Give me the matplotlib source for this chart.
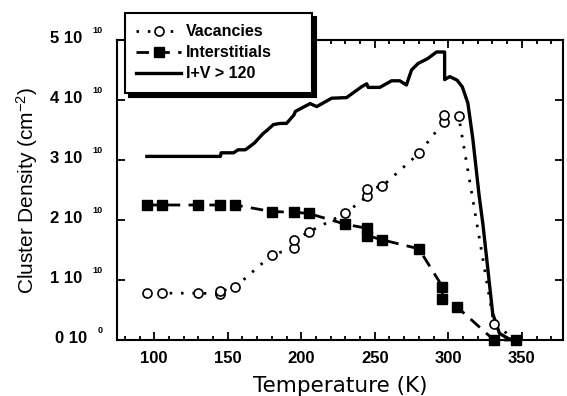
import matplotlib
matplotlib.use("Agg")
import matplotlib.pyplot as plt
from matplotlib.ticker import MultipleLocator, NullFormatter

plt.rcParams["mathtext.default"] = "regular"

SCALE = 1e10  # densities below are in units of 1e10 cm^-2

# vacancy clusters (open circles, dotted)
vac_temp = [95, 105, 130, 145, 145, 155, 180, 195, 195, 205, 230, 245, 245, 255,
            280, 297, 297, 307, 331, 346]
vac_density = [0.78, 0.78, 0.78, 0.77, 0.81, 0.88, 1.42, 1.53, 1.66, 1.80, 2.11,
               2.40, 2.52, 2.56, 3.11, 3.64, 3.75, 3.74, 0.27, 0.0]

# interstitial clusters (filled squares, dashed)
int_temp = [95, 105, 130, 145, 155, 180, 195, 205, 230, 245, 245, 255, 280,
            296, 296, 306, 331, 346]
int_density = [2.25, 2.25, 2.25, 2.25, 2.25, 2.14, 2.13, 2.11, 1.93, 1.86, 1.74,
               1.67, 1.52, 0.89, 0.69, 0.55, 0.0, 0.0]

# I+V > 120 (solid)
iv_temp = [95, 145, 145.5, 154, 157, 162, 168, 174, 177, 181, 185.6, 190, 195,
           196, 206, 210.5, 220.7, 230.8, 241, 244.5, 245.5, 253.4, 261.4, 267,
           271.5, 275, 279.5, 286, 292, 297.5, 297.5, 301, 306, 309.5, 313.3,
           316.7, 321, 323.5, 330.2, 334.8, 341, 346]
iv_density = [3.06, 3.06, 3.12, 3.12, 3.17, 3.17, 3.28, 3.44, 3.50, 3.59, 3.61,
              3.61, 3.75, 3.81, 3.94, 3.89, 4.03, 4.04, 4.22, 4.27, 4.21, 4.21,
              4.32, 4.32, 4.25, 4.50, 4.61, 4.69, 4.80, 4.80, 4.34, 4.39, 4.33,
              4.22, 3.95, 3.35, 2.40, 1.94, 0.44, 0.11, 0.02, 0.0]

y_ticks = [0, 1, 2, 3, 4, 5]
y_tick_base = ["0 10", "1 10", "2 10", "3 10", "4 10", "5 10"]
y_tick_exp = ["0", "10", "10", "10", "10", "10"]

fig = plt.figure(figsize=(5.67, 3.96), dpi=100)
ax = fig.add_axes([0.2072, 0.1414, 0.7857, 0.7576])

ax.plot(vac_temp, [v * SCALE for v in vac_density], color="black",
        linestyle=(0, (0.9, 3.2)), linewidth=2.0, marker="o", markersize=6.5,
        markerfacecolor="white", markeredgecolor="black", markeredgewidth=1.2,
        label="Vacancies", clip_on=False, zorder=3)
ax.plot(int_temp, [v * SCALE for v in int_density], color="black",
        linestyle=(0, (4.5, 3)), linewidth=2.0, marker="s", markersize=6.5,
        markerfacecolor="black", markeredgecolor="black",
        label="Interstitials", clip_on=False, zorder=3)
ax.plot(iv_temp, [v * SCALE for v in iv_density], color="black", linewidth=2.4,
        label="I+V > 120", clip_on=False, zorder=2)

ax.set_xlim(75, 378)
ax.set_ylim(0, 5 * SCALE)
ax.xaxis.set_major_locator(MultipleLocator(50))
ax.xaxis.set_minor_locator(MultipleLocator(10))
ax.set_yticks([t * SCALE for t in y_ticks])
ax.yaxis.set_major_formatter(NullFormatter())
ax.tick_params(which="both", direction="in", top=True, right=True, width=1.3)
ax.tick_params(which="major", length=6)
ax.tick_params(which="minor", length=3)
ax.tick_params(axis="x", pad=8)
for lab in ax.get_xticklabels():
    lab.set_fontfamily("Liberation Sans")
    lab.set_fontweight("bold")
    lab.set_fontsize(12)
for spine in ax.spines.values():
    spine.set_linewidth(1.5)

# y tick labels of the form "3 10" with a detached exponent
ytrans = ax.get_yaxis_transform()
for val, base, exp in zip(y_ticks, y_tick_base, y_tick_exp):
    sup = ax.annotate(exp, xy=(0, val * SCALE), xycoords=ytrans, xytext=(-11, 7),
                      textcoords="offset points", ha="right", va="center",
                      family="Liberation Sans", weight="bold", fontsize=6.5)
    ax.annotate(base, xy=(0, 0.5), xycoords=sup, xytext=(-7, -6),
                textcoords="offset points", ha="right", va="center",
                family="Liberation Sans", weight="bold", fontsize=12)

ax.set_xlabel("Temperature (K)", family="DejaVu Sans", fontsize=15.5, labelpad=7)
ax.set_ylabel("Cluster Density (cm$^{-2}$)", family="Liberation Sans",
              fontsize=15, labelpad=52)

leg = ax.legend(loc="upper left", bbox_to_anchor=(0.2205, 0.767, 0.33, 0.2),
                bbox_transform=fig.transFigure, mode="expand", borderaxespad=0,
                frameon=True, fancybox=False, edgecolor="black", framealpha=1,
                shadow={"ox": 3, "oy": -3, "color": "black", "alpha": 1},
                prop={"family": "Liberation Sans", "weight": "bold", "size": 11.5},
                handlelength=2.8, handletextpad=0.3, labelspacing=0.38,
                borderpad=0.7)
leg.get_frame().set_linewidth(1.5)

fig.savefig("out.png", dpi=100)
